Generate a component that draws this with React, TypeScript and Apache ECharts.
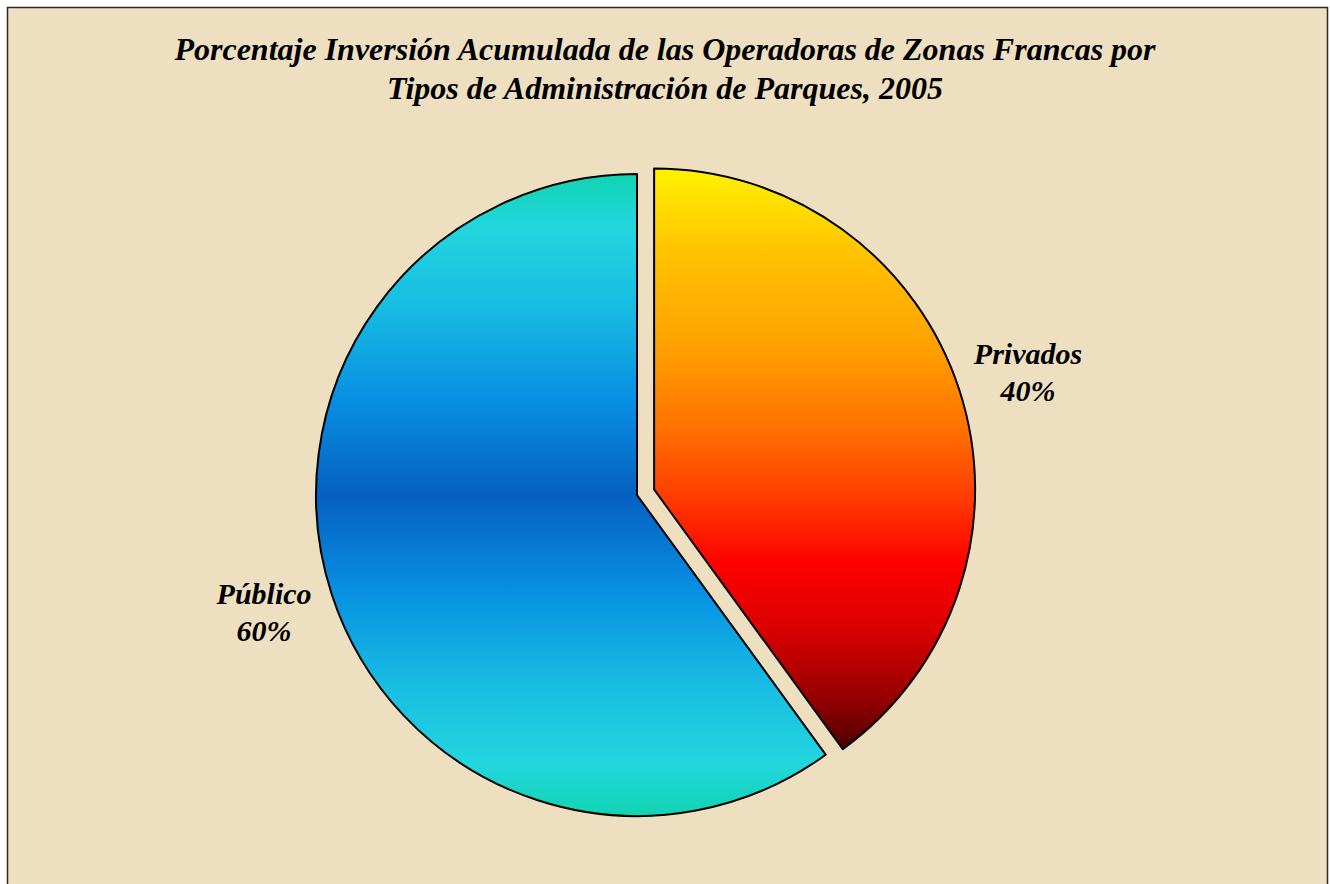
import React, { useEffect, useRef } from "react";
import * as echarts from "echarts";

const categories = ["Privados", "Público"];
const values = [40, 60];
const titleLines = [
  "Porcentaje Inversión Acumulada de las Operadoras de Zonas Francas por",
  "Tipos de Administración de Parques, 2005",
];

const CX = 637;
const CY = 495;
const RADIUS = 321;
const EXPLODE = 18;
const EXPLODED_INDEX = 0;
const LABEL_R = 390;
const LABEL_NUDGE = [
  [3, 3],
  [-2, -4],
];

const privGradient = new echarts.graphic.LinearGradient(0, 0, 0, 1, [
  { offset: 0, color: "#FFF200" },
  { offset: 0.14, color: "#FFC400" },
  { offset: 0.31, color: "#FFA000" },
  { offset: 0.45, color: "#FF7000" },
  { offset: 0.57, color: "#FF3A00" },
  { offset: 0.68, color: "#FF0000" },
  { offset: 0.79, color: "#DC0000" },
  { offset: 0.92, color: "#900000" },
  { offset: 1, color: "#4A0000" },
]);
const pubGradient = new echarts.graphic.LinearGradient(0, 0, 0, 1, [
  { offset: 0, color: "#10D4B0" },
  { offset: 0.08, color: "#22D6DE" },
  { offset: 0.2, color: "#18BEE2" },
  { offset: 0.35, color: "#0890E2" },
  { offset: 0.5, color: "#0560C0" },
  { offset: 0.65, color: "#0890E2" },
  { offset: 0.8, color: "#18BEE2" },
  { offset: 0.92, color: "#22D6DE" },
  { offset: 1, color: "#10D4B0" },
]);
const colors = [privGradient, pubGradient];

export default function App() {
  const ref = useRef<HTMLDivElement>(null);
  useEffect(() => {
    document.body.style.margin = "0";
    const chart = echarts.init(ref.current!, null, { renderer: "svg" });
    const total = values.reduce((a, b) => a + b, 0);
    const mids: number[] = [];
    let acc = 0;
    values.forEach((v) => {
      mids.push(((acc + v / 2) / total) * Math.PI * 2);
      acc += v;
    });
    const offsetOf = (i: number) =>
      i === EXPLODED_INDEX
        ? [EXPLODE * Math.sin(mids[i]), -EXPLODE * Math.cos(mids[i])]
        : [0, 0];

    const makeSeries = (k: number) => {
      const [ox, oy] = offsetOf(k);
      return {
        type: "pie",
        name: categories[k],
        center: [CX + ox, CY + oy],
        radius: RADIUS,
        startAngle: 90,
        clockwise: true,
        silent: true,
        emphasis: { disabled: true },
        labelLine: { show: false },
        label: {
          show: true,
          position: "outside",
          formatter: (p: any) => `${p.name}\n${Math.round(p.percent)}%`,
          fontFamily: "Liberation Serif",
          fontWeight: "bold",
          fontStyle: "italic",
          fontSize: 30,
          lineHeight: 37,
          color: "#000",
          align: "center",
        },
        labelLayout: (params: any) => {
          const i = params.dataIndex;
          const a = mids[i];
          const [dx, dy] = offsetOf(i);
          return {
            x: CX + dx + LABEL_R * Math.sin(a) + LABEL_NUDGE[i][0],
            y: CY + dy - LABEL_R * Math.cos(a) + LABEL_NUDGE[i][1],
            align: "center",
            verticalAlign: "middle",
          };
        },
        data: categories.map((c, i) => ({
          name: c,
          value: values[i],
          itemStyle:
            i === k
              ? { color: colors[i], borderColor: "#000", borderWidth: 2 }
              : { color: "rgba(0,0,0,0)", borderWidth: 0 },
          label: { show: i === k },
        })),
      };
    };

    chart.setOption({
      animation: false,
      backgroundColor: "#ffffff",
      title: {
        text: titleLines.join("\n"),
        left: "center",
        top: 24,
        textStyle: {
          fontFamily: "Liberation Serif",
          fontWeight: "bold",
          fontStyle: "italic",
          fontSize: 32,
          lineHeight: 39,
          color: "#000",
        },
      },
      graphic: [
        {
          type: "rect",
          z: -10,
          shape: { x: 7.5, y: 7.5, width: 1320, height: 900 },
          style: { fill: "#EEDFC0", stroke: "#2a2a2a", lineWidth: 1.5 },
          silent: true,
        },
      ],
      series: categories.map((_, k) => makeSeries(k)),
    });
    return () => chart.dispose();
  }, []);
  return <div ref={ref} style={{ width: 1330, height: 884 }} />;
}
